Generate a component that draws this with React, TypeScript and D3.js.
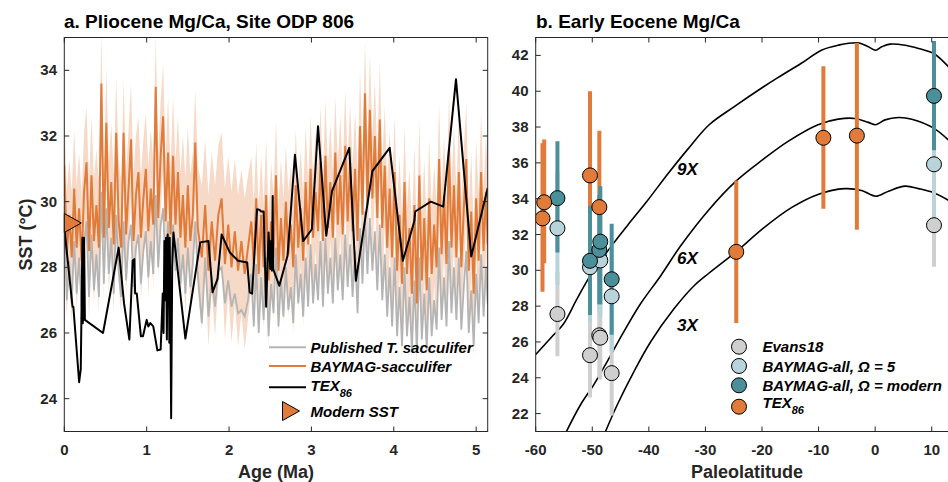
import React from "react";
import * as d3 from "d3";

// ---- panel a: Pliocene Mg/Ca, ODP 806 ----
const mgAge = [
  0.0, 0.03, 0.06, 0.09, 0.12, 0.15, 0.18, 0.21, 0.24, 0.27, 0.3, 0.33, 0.36, 0.39, 0.42, 0.45, 0.48, 0.51, 0.54, 0.57,
  0.6, 0.63, 0.66, 0.69, 0.72, 0.75, 0.78, 0.81, 0.84, 0.87, 0.9, 0.93, 0.96, 0.99, 1.02, 1.05, 1.08, 1.11, 1.14, 1.17,
  1.2, 1.23, 1.26, 1.29, 1.32, 1.35, 1.38, 1.41, 1.44, 1.47, 1.5, 1.53, 1.56, 1.59, 1.62,
  1.67, 1.71, 1.75, 1.79, 1.83, 1.87, 1.91, 1.95, 1.99, 2.03, 2.07, 2.11, 2.15, 2.19, 2.23, 2.27,
  2.3, 2.33, 2.36, 2.39, 2.42, 2.45, 2.48, 2.51, 2.54, 2.57, 2.6, 2.63, 2.66, 2.69, 2.72, 2.75, 2.78, 2.81, 2.84, 2.87,
  2.9, 2.93, 2.96, 2.99, 3.02, 3.05, 3.08, 3.11, 3.14, 3.17, 3.2, 3.23, 3.26, 3.29, 3.32, 3.35, 3.38, 3.41, 3.44, 3.47,
  3.5, 3.53, 3.56, 3.59, 3.62, 3.65, 3.68, 3.71, 3.74, 3.77, 3.8, 3.83, 3.86, 3.89, 3.92, 3.95, 3.98, 4.01, 4.04, 4.07,
  4.1, 4.13, 4.16, 4.19, 4.22, 4.25, 4.28, 4.31, 4.34, 4.37, 4.4, 4.43, 4.46, 4.49, 4.52, 4.55, 4.58, 4.61, 4.64, 4.67,
  4.7, 4.73, 4.76, 4.79, 4.82, 4.85, 4.88, 4.91, 4.94, 4.97, 5.0, 5.03, 5.06, 5.09, 5.12, 5.14,
];
const bayMg = [
  31.1, 28.4, 29.6, 28.3, 30.4, 28.6, 29.8, 28.2, 30.3, 31.2, 28.5, 30.8, 28.8, 29.9, 28.6, 33.6, 28.9, 32.4, 29.2, 30.6,
  28.7, 32.1, 29.4, 28.6, 32.1, 29.0, 30.4, 31.9, 28.8, 30.2, 30.9, 28.9, 30.1, 31.0, 29.1, 30.4, 29.3, 33.5, 29.5, 31.4,
  32.6, 29.4, 31.5, 29.0, 31.4, 29.3, 30.9, 28.9, 30.2, 28.6, 30.5, 28.8, 29.6, 31.8, 29.2,
  28.3, 29.9, 27.9, 29.4, 28.2, 29.6, 30.1, 28.1, 29.3, 28.0, 29.1, 27.9, 28.8, 27.8, 28.6, 29.4,
  28.1, 30.1, 27.8, 29.6, 28.0, 30.2, 27.6, 29.4, 28.3, 30.8, 27.9, 29.5, 28.2, 30.0, 28.4, 29.3, 28.0, 30.5, 28.6, 29.8,
  28.2, 30.6, 28.7, 31.0, 28.9, 30.3, 29.1, 31.2, 28.8, 31.4, 29.2, 30.6, 28.9, 31.5, 29.3, 30.8, 29.0, 31.7, 29.4, 31.2,
  29.1, 31.0, 28.8, 32.3, 29.6, 33.3, 29.9, 32.8, 30.1, 32.0, 29.5, 32.5, 29.2, 31.1, 28.6, 30.4, 28.3, 30.9, 27.9, 29.6,
  27.5, 30.6, 27.8, 29.2, 27.2, 29.9, 26.9, 30.8, 27.6, 29.5, 27.3, 30.1, 27.8, 29.3, 28.0, 31.3, 28.4, 30.2, 28.1, 31.6,
  28.6, 30.5, 28.3, 30.9, 28.0, 29.8, 31.3, 27.9, 29.7, 27.2, 30.1, 28.2, 30.9, 28.5, 30.3, 28.7,
];
const pubMg = [
  29.7, 27.0, 28.2, 26.9, 28.8, 27.2, 28.3, 26.8, 28.7, 29.4, 27.1, 29.0, 27.3, 28.4, 27.1, 30.3, 27.5, 29.8, 27.8, 28.9,
  27.2, 29.6, 27.9, 27.1, 29.4, 27.6, 28.8, 29.3, 27.4, 28.6, 29.0, 27.5, 28.5, 29.1, 27.7, 28.8, 27.8, 30.2, 28.0, 29.3,
  29.8, 27.9, 29.4, 27.6, 29.3, 27.9, 28.9, 27.5, 28.4, 27.2, 28.6, 27.4, 28.1, 29.4, 27.8,
  26.3, 28.3, 26.5, 27.7, 26.8, 27.9, 28.0, 26.9, 27.6, 26.8, 27.2, 26.6, 26.7, 26.5, 27.0, 27.8,
  26.2, 28.1, 26.0, 27.7, 26.4, 28.3, 25.9, 27.5, 26.6, 28.6, 26.2, 27.6, 26.5, 28.0, 26.7, 27.4, 26.3, 28.4, 26.9, 27.8,
  26.5, 28.3, 26.8, 28.7, 26.9, 28.1, 27.0, 28.8, 26.8, 28.9, 27.2, 28.3, 26.9, 28.9, 27.3, 28.4, 27.0, 29.0, 27.4, 28.7,
  27.1, 28.5, 26.6, 29.2, 27.5, 29.7, 27.8, 29.5, 27.9, 29.1, 27.3, 29.3, 27.0, 28.4, 26.5, 28.0, 26.2, 28.3, 25.9, 27.4,
  25.6, 28.0, 25.9, 27.1, 25.5, 27.6, 25.4, 28.3, 25.8, 27.2, 25.5, 27.7, 25.9, 27.0, 26.1, 28.6, 26.4, 27.7, 26.2, 28.8,
  26.6, 28.0, 26.4, 28.3, 26.1, 27.4, 28.5, 26.0, 27.3, 25.6, 27.8, 26.3, 28.4, 26.5, 28.0, 26.9,
];
const bayErr = [
  1.8, 1.9, 1.7, 2.0, 1.8, 1.9, 1.7, 2.0, 1.8, 1.7, 2.1, 1.8, 1.9, 1.7, 2.0, 1.6, 1.9, 1.7, 2.0, 1.8,
  2.1, 1.7, 1.9, 2.0, 1.6, 1.9, 1.8, 1.7, 2.0, 1.8, 1.7, 1.9, 1.8, 1.7, 2.0, 1.8, 1.9, 1.5, 1.9, 1.7,
  1.6, 1.9, 1.7, 2.0, 1.8, 1.9, 1.7, 2.0, 1.8, 2.1, 1.8, 2.0, 1.9, 1.6, 1.9,
  2.2, 2.0, 2.3, 2.1, 2.3, 2.1, 2.0, 2.3, 2.1, 2.3, 2.2, 2.3, 2.2, 2.3, 2.2, 2.0,
  1.9, 1.7, 2.0, 1.8, 1.9, 1.7, 2.0, 1.8, 1.9, 1.7, 2.0, 1.8, 1.9, 1.7, 1.9, 1.8, 2.0, 1.7, 1.9, 1.8,
  2.0, 1.7, 1.9, 1.6, 1.9, 1.8, 1.9, 1.7, 2.0, 1.7, 1.9, 1.8, 2.0, 1.7, 1.9, 1.8, 2.0, 1.7, 1.9, 1.8,
  2.0, 1.8, 2.0, 1.7, 1.9, 1.6, 1.9, 1.7, 1.9, 1.7, 1.9, 1.7, 2.0, 1.8, 2.0, 1.8, 2.0, 1.7, 2.0, 1.8,
  2.0, 1.7, 2.0, 1.8, 2.0, 1.8, 2.0, 1.7, 2.0, 1.8, 2.0, 1.8, 2.0, 1.8, 1.9, 1.7, 1.9, 1.8, 1.9, 1.7,
  1.9, 1.8, 2.0, 1.8, 2.0, 1.8, 1.7, 2.0, 1.8, 2.0, 1.8, 2.0, 1.8, 1.9, 1.8, 1.9,
];
const texAge = [
  0, 0.1, 0.11, 0.18, 0.2, 0.22, 0.225, 0.23, 0.235, 0.24, 0.25, 0.47, 0.66, 0.725, 0.79, 0.83, 0.85, 0.86, 0.88, 0.93,
  0.955, 1.0, 1.02, 1.045, 1.08, 1.13, 1.17, 1.195, 1.205, 1.215, 1.225, 1.235, 1.245, 1.255, 1.265, 1.27, 1.275, 1.28,
  1.29, 1.297, 1.31, 1.325, 1.47, 1.65, 1.75, 1.8, 1.86, 1.91, 2.01, 2.11, 2.22, 2.25, 2.28, 2.34, 2.37, 2.39, 2.42,
  2.45, 2.48, 2.5, 2.51, 2.52, 2.53, 2.535, 2.61, 2.71, 2.8, 2.9, 3.005, 3.08, 3.18, 3.25, 3.46, 3.54, 3.74, 3.95, 4.11,
  4.25, 4.26, 4.45, 4.6, 4.755, 4.94, 5.14,
];
const texSst = [
  29.2, 26.8, 26.8, 24.5, 24.9, 28.9, 26.3, 28.9, 26.4, 28.9, 26.4, 26.0, 28.6, 26.9, 25.8, 28.2, 28.25, 27.2, 27.2, 25.9,
  25.9, 26.4, 26.2, 26.3, 26.2, 25.47, 25.5, 27.2, 26.0, 28.8, 27.0, 28.9, 25.8, 29.0, 27.5, 28.1, 25.7, 28.9,
  26.0, 23.4, 28.0, 29.06, 25.83, 28.76, 28.8, 27.24, 27.65, 29.0, 28.45, 28.2, 28.15, 27.24, 27.2, 29.77, 29.75, 29.7, 29.7,
  26.8, 29.06, 27.95, 28.8, 27.9, 30.17, 27.95, 27.44, 28.35, 31.43, 28.8, 29.16, 32.3, 28.96, 30.32, 31.64, 27.59, 30.93, 31.64, 28.2,
  29.41, 29.7, 30.0, 29.85, 33.73, 28.33, 30.42,
];
const modernSst = 29.35;
const ageTicks = [0, 1, 2, 3, 4, 5];
const sstTicksA = [24, 26, 28, 30, 32, 34];

// ---- panel b: Early Eocene Mg/Ca ----
const latTicks = [-60, -50, -40, -30, -20, -10, 0, 10];
const sstTicksB = [22, 24, 26, 28, 30, 32, 34, 36, 38, 40, 42];

const evLat = [-56.16, -50.4, -48.76, -48.58, -46.57, 10.4];
const evSst = [27.56, 25.26, 26.37, 26.24, 24.26, 32.52];
const evLo = [25.2, 22.9, 24.0, 23.9, 21.9, 30.2];
const evHi = [29.9, 27.6, 28.7, 28.6, 26.6, 34.8];

const om5Lat = [-56.16, -50.4, -48.76, -48.58, -46.57, 10.4];
const om5Sst = [32.35, 30.17, 30.7, 30.55, 28.55, 35.92];
const om5Lo = [29.2, 27.1, 27.6, 27.4, 25.5, 32.85];
const om5Hi = [35.5, 33.2, 33.8, 33.7, 31.6, 39.0];

const omModLat = [-56.16, -50.4, -48.76, -48.58, -46.57, 10.4];
const omModSst = [34.03, 30.53, 31.14, 31.6, 29.5, 39.74];
const omModLo = [31.0, 27.5, 28.1, 28.1, 26.4, 36.7];
const omModHi = [37.2, 33.6, 34.2, 34.7, 32.6, 42.8];

const texLat = [-58.8, -58.5, -50.4, -48.75, -24.55, -9.15, -3.23];
const texB = [32.9, 33.8, 35.3, 33.53, 31.03, 37.4, 37.52];
const texBLo = [28.8, 30.4, 30.6, 29.3, 27.06, 33.44, 32.26];
const texBHi = [37.1, 37.3, 40.0, 37.8, 35.02, 41.4, 42.7];

const c9Lat = [-60, -56.9, -55.1, -52.7, -50.35, -46.8, -43.84, -40.3, -36.73, -33.18, -29.34, -24.9, -19.86, -17.2, -13.05, -9.5, -6.54, -2.98, -1.2, 0.09, 1.16, 2.63, 5.3, 7.67, 10.34, 11.8, 13.2];
const c9Sst = [25.3, 26.37, 27.0, 28.4, 29.7, 31.28, 32.48, 33.87, 35.35, 36.74, 38.13, 39.14, 40.22, 40.76, 41.56, 42.29, 42.57, 42.7, 42.48, 42.29, 42.48, 42.63, 42.57, 42.39, 42.11, 41.74, 41.28];
const c6Lat = [-55.2, -52.1, -49.77, -47.39, -44.44, -41.47, -37.9, -34.37, -29.34, -24.6, -19.86, -15.4, -10.1, -6.54, -3.6, -1.2, 0.09, 1.74, 4.12, 6.48, 10.34, 13.2];
const c6Sst = [20.6, 22.48, 23.59, 24.89, 26.56, 28.13, 29.7, 31.37, 33.4, 34.98, 36.18, 37.2, 38.13, 38.44, 38.48, 38.26, 38.13, 38.4, 38.53, 38.44, 37.94, 37.2];
const c3Lat = [-48.2, -45.6, -42.66, -39.7, -35.56, -32.0, -29.34, -24.6, -19.86, -14.8, -10.1, -5.37, -2.4, 0.09, 2.35, 5.3, 7.67, 10.34, 13.2];
const c3Sst = [20.6, 22.48, 24.33, 26.0, 27.85, 29.14, 29.85, 31.03, 32.33, 33.5, 34.24, 34.56, 34.46, 34.14, 34.42, 34.7, 34.56, 34.33, 33.87];

const ORANGE = "#E07B39";
const BAND = "#F7D9C7";
const GRAYLINE = "#B4B4B4";
const TEAL = "#4A8F9A";
const LIGHTBLUE = "#B8D3D9";
const GRAYPT = "#CFCFCF";
const INK = "#262626";
const FONT = "'Liberation Sans', Arial, Helvetica, sans-serif";

const TOP = 37.5, BOT = 431.5;

export default function App() {
  const xA = d3.scaleLinear().domain([0, 5.14]).range([64.3, 487.7]);
  const yA = d3.scaleLinear().domain([23, 35]).range([BOT, TOP]);
  const xB = d3.scaleLinear().domain([-60, 20]).range([535.7, 988.3]);
  const yB = d3.scaleLinear().domain([21, 43]).range([BOT, TOP]);

  const idx = mgAge.map((_, i) => i);
  const band = d3.area<number>().x((i) => xA(mgAge[i])).y0((i) => yA(bayMg[i] - bayErr[i])).y1((i) => yA(bayMg[i] + bayErr[i]))(idx) || "";
  const lineOf = (xs: number[], ys: number[], sx: any, sy: any, curve: any = d3.curveLinear) =>
    d3.line<number>().x((i) => sx(xs[i])).y((i) => sy(ys[i])).curve(curve)(xs.map((_, i) => i)) || "";

  const tri = (cx: number, cy: number) => `M${cx},${cy - 9.5}L${cx + 17},${cy}L${cx},${cy + 9.5}Z`;

  const series = [
    { lat: evLat, v: evSst, lo: evLo, hi: evHi, c: GRAYPT },
    { lat: om5Lat, v: om5Sst, lo: om5Lo, hi: om5Hi, c: LIGHTBLUE },
    { lat: omModLat, v: omModSst, lo: omModLo, hi: omModHi, c: TEAL },
  ];
  const texSeries = { lat: texLat, v: texB, lo: texBLo, hi: texBHi, c: ORANGE };

  const bars = (s: any, k: string) =>
    s.lat.map((la: number, i: number) => (
      <line key={k + i} x1={xB(la)} x2={xB(la)} y1={yB(s.lo[i])} y2={yB(s.hi[i])} stroke={s.c} strokeWidth={4} />
    ));
  const dots = (s: any, k: string) =>
    s.lat.map((la: number, i: number) => (
      <circle key={k + i} cx={xB(la)} cy={yB(s.v[i])} r={7.5} fill={s.c} stroke="#000" strokeWidth={1} />
    ));

  const tickLen = 5;

  return (
    <svg width={948} height={482} style={{ position: "fixed", left: 0, top: 0 }} fontFamily={FONT}>
      <defs>
        <clipPath id="clipA"><rect x={xA(0)} y={TOP} width={xA(5.14) - xA(0)} height={BOT - TOP} /></clipPath>
        <clipPath id="clipB"><rect x={xB(-60)} y={TOP} width={xB(20) - xB(-60)} height={BOT - TOP} /></clipPath>
      </defs>
      <rect width={948} height={482} fill="#fff" />

      {/* panel a */}
      <g clipPath="url(#clipA)">
        <path d={band} fill={BAND} />
        <path d={lineOf(mgAge, pubMg, xA, yA)} fill="none" stroke={GRAYLINE} strokeWidth={1.8} />
        <path d={lineOf(mgAge, bayMg, xA, yA)} fill="none" stroke={ORANGE} strokeWidth={2} />
        <path d={lineOf(texAge, texSst, xA, yA)} fill="none" stroke="#000" strokeWidth={2} strokeLinejoin="round" />
      </g>
      <path d={tri(xA(0), yA(modernSst))} fill={ORANGE} stroke="#000" strokeWidth={1} />
      <rect x={xA(0)} y={TOP} width={xA(5.14) - xA(0)} height={BOT - TOP} fill="none" stroke={INK} strokeWidth={1} />
      {ageTicks.map((t) => (
        <g key={"xa" + t}>
          <line x1={xA(t)} x2={xA(t)} y1={BOT} y2={BOT - tickLen} stroke={INK} />
          <line x1={xA(t)} x2={xA(t)} y1={TOP} y2={TOP + tickLen} stroke={INK} />
          <text x={xA(t)} y={455} textAnchor="middle" fontSize={15} fontWeight="bold" fill={INK}>{t}</text>
        </g>
      ))}
      {sstTicksA.map((t) => (
        <g key={"ya" + t}>
          <line x1={xA(0)} x2={xA(0) + tickLen} y1={yA(t)} y2={yA(t)} stroke={INK} />
          <line x1={xA(5.14)} x2={xA(5.14) - tickLen} y1={yA(t)} y2={yA(t)} stroke={INK} />
          <text x={57} y={yA(t) + 5} textAnchor="end" fontSize={15} fontWeight="bold" fill={INK}>{t}</text>
        </g>
      ))}
      <text x={64} y={28} fontSize={19} fontWeight="bold" fill="#000">a. Pliocene Mg/Ca, Site ODP 806</text>
      <text x={276} y={478} textAnchor="middle" fontSize={18} fontWeight="bold" fill={INK}>Age (Ma)</text>
      <text transform={`translate(32,${(TOP + BOT) / 2}) rotate(-90)`} textAnchor="middle" fontSize={18} fontWeight="bold" fill={INK}>
        SST (°C)
      </text>

      {/* legend a */}
      <g fontSize={15} fontWeight="bold" fontStyle="italic" fill="#000">
        <line x1={269} x2={306} y1={347.3} y2={347.3} stroke={GRAYLINE} strokeWidth={2} />
        <text x={310.5} y={352.5}>Published T. sacculifer</text>
        <line x1={269} x2={306} y1={366} y2={366} stroke={ORANGE} strokeWidth={2} />
        <text x={310.5} y={371.5}>BAYMAG-sacculifer</text>
        <line x1={269} x2={306} y1={387.3} y2={387.3} stroke="#000" strokeWidth={2} />
        <text x={310.5} y={391}>TEX<tspan dy={6} fontSize={11}>86</tspan></text>
        <path d={tri(282.5, 411)} fill={ORANGE} stroke="#000" strokeWidth={1} />
        <text x={310.5} y={416.5}>Modern SST</text>
      </g>

      {/* panel b */}
      <g clipPath="url(#clipB)">
        <path d={lineOf(c9Lat, c9Sst, xB, yB, d3.curveCatmullRom)} fill="none" stroke="#000" strokeWidth={1.6} />
        <path d={lineOf(c6Lat, c6Sst, xB, yB, d3.curveCatmullRom)} fill="none" stroke="#000" strokeWidth={1.6} />
        <path d={lineOf(c3Lat, c3Sst, xB, yB, d3.curveCatmullRom)} fill="none" stroke="#000" strokeWidth={1.6} />
        {bars(texSeries, "tb")}
        {series.map((s, j) => <g key={"b" + j}>{bars(s, "b" + j)}</g>)}
        {series.map((s, j) => <g key={"d" + j}>{dots(s, "d" + j)}</g>)}
        {dots(texSeries, "td")}
      </g>
      <g fontSize={17} fontWeight="bold" fontStyle="italic" fill="#000" textAnchor="middle">
        <text x={xB(-33.2)} y={yB(35.64) + 6}>9X</text>
        <text x={xB(-33.2)} y={yB(30.68) + 6}>6X</text>
        <text x={xB(-33.2)} y={yB(26.96) + 6}>3X</text>
      </g>
      <rect x={xB(-60)} y={TOP} width={xB(20) - xB(-60)} height={BOT - TOP} fill="none" stroke={INK} strokeWidth={1} />
      {latTicks.map((t) => (
        <g key={"xb" + t}>
          <line x1={xB(t)} x2={xB(t)} y1={BOT} y2={BOT - tickLen} stroke={INK} />
          <line x1={xB(t)} x2={xB(t)} y1={TOP} y2={TOP + tickLen} stroke={INK} />
          <text x={xB(t)} y={455} textAnchor="middle" fontSize={15} fontWeight="bold" fill={INK}>{t}</text>
        </g>
      ))}
      {sstTicksB.map((t) => (
        <g key={"yb" + t}>
          <line x1={xB(-60)} x2={xB(-60) + tickLen} y1={yB(t)} y2={yB(t)} stroke={INK} />
          <text x={528.5} y={yB(t) + 5} textAnchor="end" fontSize={15} fontWeight="bold" fill={INK}>{t}</text>
        </g>
      ))}
      <text x={536} y={28} fontSize={19} fontWeight="bold" fill="#000">b. Early Eocene Mg/Ca</text>
      <text x={747} y={478} textAnchor="middle" fontSize={18} fontWeight="bold" fill={INK}>Paleolatitude</text>

      {/* legend b */}
      <g fontSize={15} fontWeight="bold" fontStyle="italic" fill="#000">
        {[
          { c: GRAYPT, t: "Evans18", y: 346.7 },
          { c: LIGHTBLUE, t: "BAYMAG-all, Ω = 5", y: 366 },
          { c: TEAL, t: "BAYMAG-all, Ω = modern", y: 385.3 },
        ].map((r) => (
          <g key={r.t}>
            <circle cx={739} cy={r.y} r={7.5} fill={r.c} stroke="#000" strokeWidth={1} />
            <text x={762.5} y={r.y + 5.5}>{r.t}</text>
          </g>
        ))}
        <circle cx={739} cy={406.7} r={7.5} fill={ORANGE} stroke="#000" strokeWidth={1} />
        <text x={762.5} y={408}>TEX<tspan dy={6} fontSize={11}>86</tspan></text>
      </g>
    </svg>
  );
}
